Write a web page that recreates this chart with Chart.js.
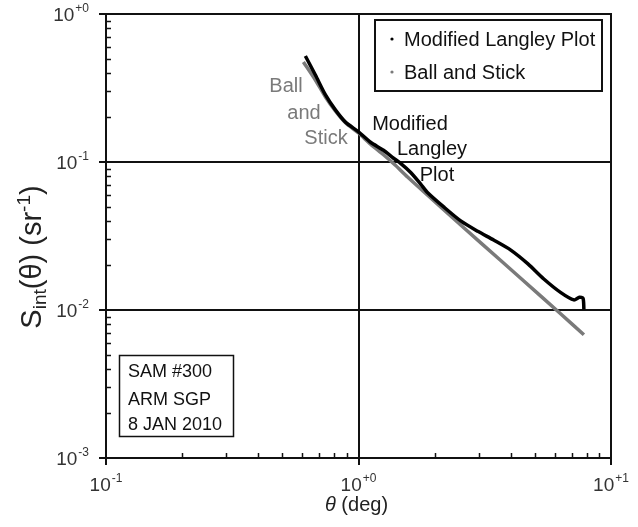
<!DOCTYPE html>
<html>
<head>
<meta charset="utf-8">
<script src="https://cdn.jsdelivr.net/npm/chart.js@4.4.1/dist/chart.umd.min.js"></script>
<style>
  html, body { margin: 0; padding: 0; background: #ffffff; }
  canvas { display: block; }
</style>
</head>
<body>
<canvas id="c" width="638" height="527"></canvas>
<script>
// ---- Data ----
const thetaLangley = [0.616, 0.675, 0.740, 0.810, 0.888, 1.0, 1.116, 1.256, 1.377, 1.468, 1.61, 1.763, 1.88, 2.175, 2.54, 2.97, 3.43, 4.01, 4.69, 5.42, 6.33, 7.13, 7.50, 7.75, 7.81];
const sLangley     = [0.520, 0.387, 0.284, 0.225, 0.186, 0.160, 0.136, 0.120, 0.106, 0.098, 0.085, 0.071, 0.0620, 0.0497, 0.0400, 0.0340, 0.0297, 0.0254, 0.0205, 0.0162, 0.0131, 0.0117, 0.0122, 0.0120, 0.0101];

const thetaBall = [0.605, 0.675, 0.740, 0.810, 0.888, 1.0, 1.116, 1.256, 1.40, 1.564, 2.115, 3.05, 4.39, 6.33, 7.81];
const sBall     = [0.474, 0.358, 0.275, 0.221, 0.184, 0.157, 0.132, 0.112, 0.095, 0.0792, 0.0497, 0.0284, 0.0164, 0.0094, 0.0068];

const seriesNames = ["Modified Langley Plot", "Ball and Stick"];
const xMajorTicks = [0.1, 1, 10];
const xTickExp = ["-1", "+0", "+1"];
const yMajorTicks = [1, 0.1, 0.01, 0.001];
const yTickExp = ["+0", "-1", "-2", "-3"];
const infoLines = ["SAM #300", "ARM SGP", "8 JAN 2010"];

const FONT = '"Liberation Sans", Arial, sans-serif';
const BLACK = '#000000';
const GRAY = '#7a7a7a';

function toPts(xs, ys) { return xs.map((x, i) => ({ x: x, y: ys[i] })); }

function drawPow(ctx, x, y, align, base, sup, size) {
  ctx.font = size + 'px ' + FONT;
  const wb = ctx.measureText(base).width;
  ctx.font = Math.round(size * 0.62) + 'px ' + FONT;
  const ws = ctx.measureText(sup).width;
  const total = wb + ws + 1;
  let sx = x;
  if (align === 'center') sx = x - total / 2;
  if (align === 'right') sx = x - total;
  ctx.textAlign = 'left';
  ctx.textBaseline = 'alphabetic';
  ctx.font = size + 'px ' + FONT;
  ctx.fillText(base, sx, y);
  ctx.font = Math.round(size * 0.62) + 'px ' + FONT;
  ctx.fillText(sup, sx + wb + 1, y - size * 0.45);
}

const framePlugin = {
  id: 'framePlugin',
  beforeDatasetsDraw(chart) {
    const ctx = chart.ctx, xs = chart.scales.x, ys = chart.scales.y, a = chart.chartArea;
    ctx.save();
    ctx.strokeStyle = '#111';
    ctx.lineWidth = 2;
    ctx.beginPath();
    [0.1, 0.01].forEach(v => { const p = Math.round(ys.getPixelForValue(v)); ctx.moveTo(a.left, p); ctx.lineTo(a.right, p); });
    [1].forEach(v => { const p = Math.round(xs.getPixelForValue(v)); ctx.moveTo(p, a.top); ctx.lineTo(p, a.bottom); });
    ctx.stroke();
    ctx.restore();
  },
  afterDraw(chart) {
    const ctx = chart.ctx, xs = chart.scales.x, ys = chart.scales.y, a = chart.chartArea;
    ctx.save();
    ctx.strokeStyle = '#111';
    ctx.lineWidth = 2;
    ctx.strokeRect(a.left, a.top, a.right - a.left, a.bottom - a.top);
    // minor ticks (inside)
    ctx.lineWidth = 1.5;
    ctx.beginPath();
    for (let e = -1; e < 1; e++) {
      for (let m = 2; m <= 9; m++) {
        const p = Math.round(xs.getPixelForValue(m * Math.pow(10, e))) + 0.5;
        ctx.moveTo(p, a.bottom); ctx.lineTo(p, a.bottom - 5);
      }
    }
    for (let e = -3; e < 0; e++) {
      for (let m = 2; m <= 9; m++) {
        const p = Math.round(ys.getPixelForValue(m * Math.pow(10, e))) + 0.5;
        ctx.moveTo(a.left, p); ctx.lineTo(a.left + 5, p);
      }
    }
    ctx.stroke();
    // major ticks (outside)
    ctx.lineWidth = 2;
    ctx.beginPath();
    xMajorTicks.forEach(v => { const p = Math.round(xs.getPixelForValue(v)); ctx.moveTo(p, a.bottom); ctx.lineTo(p, a.bottom + 7); });
    yMajorTicks.forEach(v => { const p = Math.round(ys.getPixelForValue(v)); ctx.moveTo(a.left - 7, p); ctx.lineTo(a.left, p); });
    ctx.stroke();

    // tick labels
    ctx.fillStyle = '#333';
    xMajorTicks.forEach((v, i) => drawPow(ctx, xs.getPixelForValue(v), a.bottom + 33, 'center', '10', xTickExp[i], 19));
    yMajorTicks.forEach((v, i) => drawPow(ctx, a.left - 17, ys.getPixelForValue(v) + 7, 'right', '10', yTickExp[i], 19));

    // x title
    ctx.fillStyle = '#222';
    const cx = (a.left + a.right) / 2 - 2;
    ctx.font = 'italic 20px ' + FONT;
    const wt = ctx.measureText('\u03B8').width;
    ctx.font = '20px ' + FONT;
    const wr = ctx.measureText(' (deg)').width;
    let sx = cx - (wt + wr) / 2;
    ctx.textAlign = 'left'; ctx.textBaseline = 'alphabetic';
    ctx.font = 'italic 20px ' + FONT;
    ctx.fillText('\u03B8', sx, 511);
    ctx.font = '20px ' + FONT;
    ctx.fillText(' (deg)', sx + wt, 511);

    // y title (rotated)
    ctx.save();
    ctx.translate(41, 257);
    ctx.rotate(-Math.PI / 2);
    const big = 29, small = 19;
    const parts = [
      { t: 'S', s: big, dy: 0 },
      { t: 'int', s: small, dy: 5 },
      { t: '(\u03B8) (sr', s: big, dy: 0 },
      { t: '-1', s: small, dy: -11 },
      { t: ')', s: big, dy: 0 }
    ];
    let tw = 0;
    parts.forEach(p => { ctx.font = p.s + 'px ' + FONT; p.w = ctx.measureText(p.t).width; tw += p.w; });
    let px = -tw / 2;
    parts.forEach(p => { ctx.font = p.s + 'px ' + FONT; ctx.fillText(p.t, px, p.dy); px += p.w; });
    ctx.restore();

    // legend
    ctx.fillStyle = '#fff';
    ctx.fillRect(375, 20, 227, 71);
    ctx.strokeStyle = '#111';
    ctx.lineWidth = 2;
    ctx.strokeRect(375, 20, 227, 71);
    const lgColors = [BLACK, GRAY];
    const lgY = [39, 72];
    seriesNames.forEach((n, i) => {
      ctx.fillStyle = lgColors[i];
      ctx.beginPath(); ctx.arc(392, lgY[i], 1.6, 0, Math.PI * 2); ctx.fill();
      ctx.fillStyle = '#111';
      ctx.font = '20px ' + FONT;
      ctx.textAlign = 'left'; ctx.textBaseline = 'alphabetic';
      ctx.fillText(n, 404, lgY[i] + 7);
    });

    // info box
    ctx.strokeStyle = '#111';
    ctx.lineWidth = 1.5;
    ctx.strokeRect(119.5, 355.5, 114, 81);
    ctx.fillStyle = '#111';
    ctx.font = '18px ' + FONT;
    [377, 405, 430].forEach((y, i) => ctx.fillText(infoLines[i], 128, y));

    // series annotations
    ctx.font = '20px ' + FONT;
    ctx.textAlign = 'center';
    ctx.fillStyle = GRAY;
    ctx.fillText('Ball', 286, 92);
    ctx.fillText('and', 304, 119);
    ctx.fillText('Stick', 326, 144);
    ctx.fillStyle = '#111';
    ctx.fillText('Modified', 410, 130);
    ctx.fillText('Langley', 432, 155);
    ctx.fillText('Plot', 437, 181);
    ctx.restore();
  }
};

new Chart(document.getElementById('c'), {
  type: 'scatter',
  data: {
    datasets: [
      {
        label: seriesNames[0],
        data: toPts(thetaLangley, sLangley),
        showLine: true,
        borderColor: BLACK,
        backgroundColor: BLACK,
        borderWidth: 3.5,
        pointRadius: 0,
        tension: 0.25,
        order: 0
      },
      {
        label: seriesNames[1],
        data: toPts(thetaBall, sBall),
        showLine: true,
        borderColor: GRAY,
        backgroundColor: GRAY,
        borderWidth: 3.5,
        pointRadius: 0,
        tension: 0.25,
        order: 1
      }
    ]
  },
  options: {
    responsive: false,
    animation: false,
    devicePixelRatio: 1,
    layout: { padding: { left: 106, right: 27, top: 14, bottom: 69 } },
    plugins: { legend: { display: false }, tooltip: { enabled: false } },
    scales: {
      x: { type: 'logarithmic', min: 0.1, max: 10, display: false },
      y: { type: 'logarithmic', min: 0.001, max: 1, display: false }
    }
  },
  plugins: [framePlugin]
});
</script>
</body>
</html>
